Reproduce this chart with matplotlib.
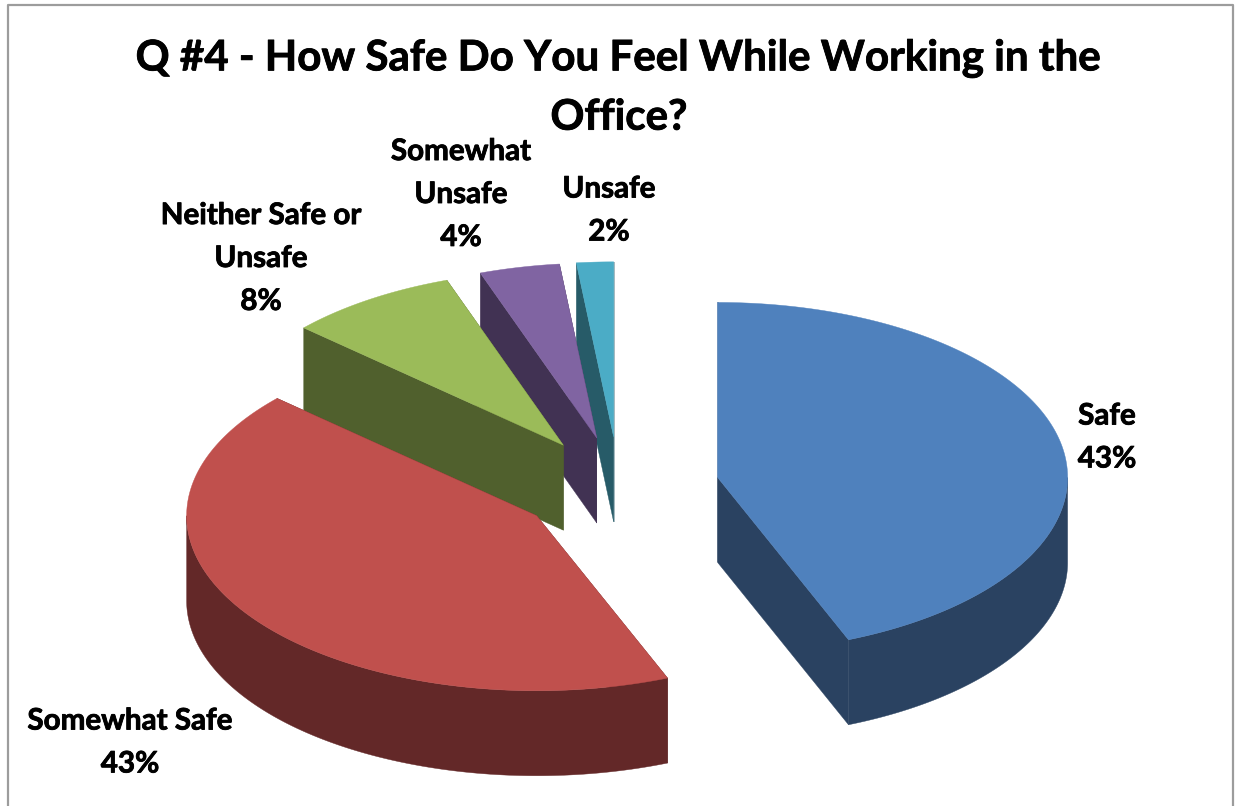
import numpy as np
import matplotlib
matplotlib.use('Agg')
import matplotlib.pyplot as plt
import matplotlib.patheffects as pe

#---------DATA------------
title = 'Q #4 - How Safe Do You Feel While Working in the\nOffice?'
categories = ['Safe', 'Somewhat Safe', 'Neither Safe or\nUnsafe', 'Somewhat\nUnsafe', 'Unsafe']
shares = [43.9, 42.8, 7.9, 3.7, 1.7]      # slice sizes
labels_pct = ['43%', '43%', '8%', '4%', '2%']

top_colors = ['#4F81BD', '#C0504D', '#9BBB59', '#8064A2', '#4BACC6']
side_colors = ['#2A4261', '#632828', '#50602D', '#413253', '#275B68']
label_pos = [(1107, 437), (130, 742), (261, 258), (461, 194), (609, 210)]

#---------PIE GEOMETRY (pixels)------------
cx0, cy0 = 619, 487
rx, ry = 350, 175
depth = 85
explode = 0.287


def rim(t, cx, cy, drop=0):
    # t in degrees, clockwise from the top of the pie
    t = np.radians(t)
    return cx + rx*np.sin(t), cy - ry*np.cos(t) + drop


plt.rcParams['font.family'] = ['Lato', 'DejaVu Sans']
fig = plt.figure(figsize=(12.35, 8.06), dpi=100)
ax = fig.add_axes([0, 0, 1, 1])
ax.set_xlim(0, 1235)
ax.set_ylim(806, 0)
ax.axis('off')

edges = np.cumsum([0] + shares)/sum(shares)*360

# chart border, open at the bottom
ax.plot([7.5, 7.5, 1233, 1233], [806, 5, 5, 806], color='#9C9C9C', lw=1.6, zorder=0)

# back slices first so the big ones sit in front
for i in [4, 3, 2, 0, 1]:
    t0, t1 = edges[i], edges[i+1]
    mid = np.radians((t0+t1)/2)
    cx = cx0 + explode*rx*np.sin(mid)
    cy = cy0 - explode*ry*np.cos(mid)

    # the two cut faces
    for t in (t0, t1):
        xr, yr = rim(t, cx, cy)
        ax.fill([cx, xr, xr, cx], [cy, yr, yr+depth, cy+depth],
                color=side_colors[i], lw=0.3)

    # outer wall, only the part facing the viewer
    a, b = max(t0, 90), min(t1, 270)
    if a < b:
        tt = np.linspace(a, b, 200)
        xt, yt = rim(tt, cx, cy)
        ax.fill(np.r_[xt, xt[::-1]], np.r_[yt, yt[::-1]+depth],
                color=side_colors[i], lw=0.3)

    # top face
    tt = np.linspace(t0, t1, 200)
    xt, yt = rim(tt, cx, cy)
    ax.fill(np.r_[cx, xt], np.r_[cy, yt], color=top_colors[i], lw=0.3)

# Lato bold is a bit lighter than the original font, thicken slightly
heavy = [pe.withStroke(linewidth=0.6, foreground='black')]

ax.text(619, 88, title, ha='center', va='center', fontsize=30.3, fontweight='bold',
        color='black', linespacing=1.67, path_effects=heavy)

for name, pct, (x, y) in zip(categories, labels_pct, label_pos):
    ax.text(x, y, name + '\n' + pct, ha='center', va='center', fontsize=21.3,
            fontweight='bold', color='black', linespacing=1.65, path_effects=heavy)

fig.savefig('out.png', dpi=100)
